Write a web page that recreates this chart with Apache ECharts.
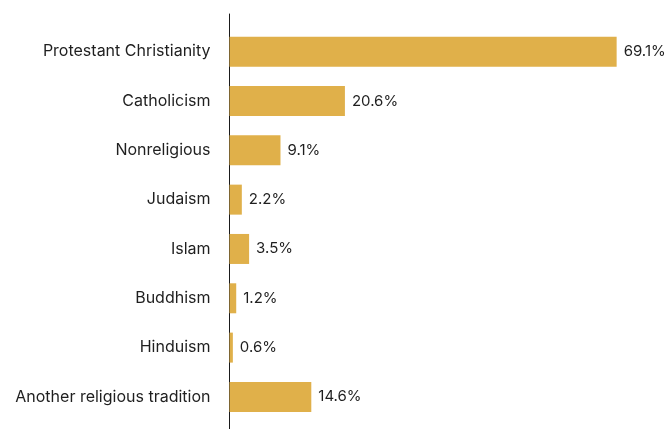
<!DOCTYPE html>
<html>
<head>
<meta charset="utf-8">
<script src="https://cdn.jsdelivr.net/npm/echarts@6/dist/echarts.min.js"></script>
<style>
  html, body { margin: 0; padding: 0; background: #ffffff; }
  #chart { width: 667px; height: 429px; }
</style>
</head>
<body>
<div id="chart"></div>
<script>
// Religious affiliation shares (%)
const categories = [
  'Protestant Christianity',
  'Catholicism',
  'Nonreligious',
  'Judaism',
  'Islam',
  'Buddhism',
  'Hinduism',
  'Another religious tradition'
];
const shares = [69.1, 20.6, 9.1, 2.2, 3.5, 1.2, 0.6, 14.6];

const FONT = 'Inter';
const TEXT = '#1f1f1f';
const BAR = '#E0B04A';

const chart = echarts.init(document.getElementById('chart'));
chart.setOption({
  animation: false,
  grid: [
    // bars
    { left: 229.5, right: 17.3, top: 27, height: 394.6 },
    // full-height baseline
    { left: 229.5, right: 17.3, top: 14, bottom: 0 }
  ],
  xAxis: [
    { gridIndex: 0, type: 'value', min: 0, max: 75, show: false },
    { gridIndex: 1, type: 'value', min: 0, max: 1, show: false }
  ],
  yAxis: [
    {
      gridIndex: 0,
      type: 'category',
      data: categories,
      inverse: true,
      axisLine: { show: false },
      axisTick: { show: false },
      axisLabel: {
        margin: 19,
        fontFamily: FONT,
        fontSize: 16,
        color: TEXT
      }
    },
    {
      gridIndex: 1,
      type: 'value',
      min: 0,
      max: 1,
      axisLine: { show: true, lineStyle: { color: '#1a1a1a', width: 1 } },
      axisTick: { show: false },
      axisLabel: { show: false },
      splitLine: { show: false }
    }
  ],
  series: [{
    type: 'bar',
    xAxisIndex: 0,
    yAxisIndex: 0,
    data: shares,
    barWidth: 30,
    itemStyle: { color: BAR },
    label: {
      show: true,
      position: 'right',
      distance: 7,
      fontFamily: FONT,
      fontSize: 15,
      color: TEXT,
      formatter: p => p.value.toFixed(1) + '%'
    }
  }]
});
</script>
</body>
</html>
